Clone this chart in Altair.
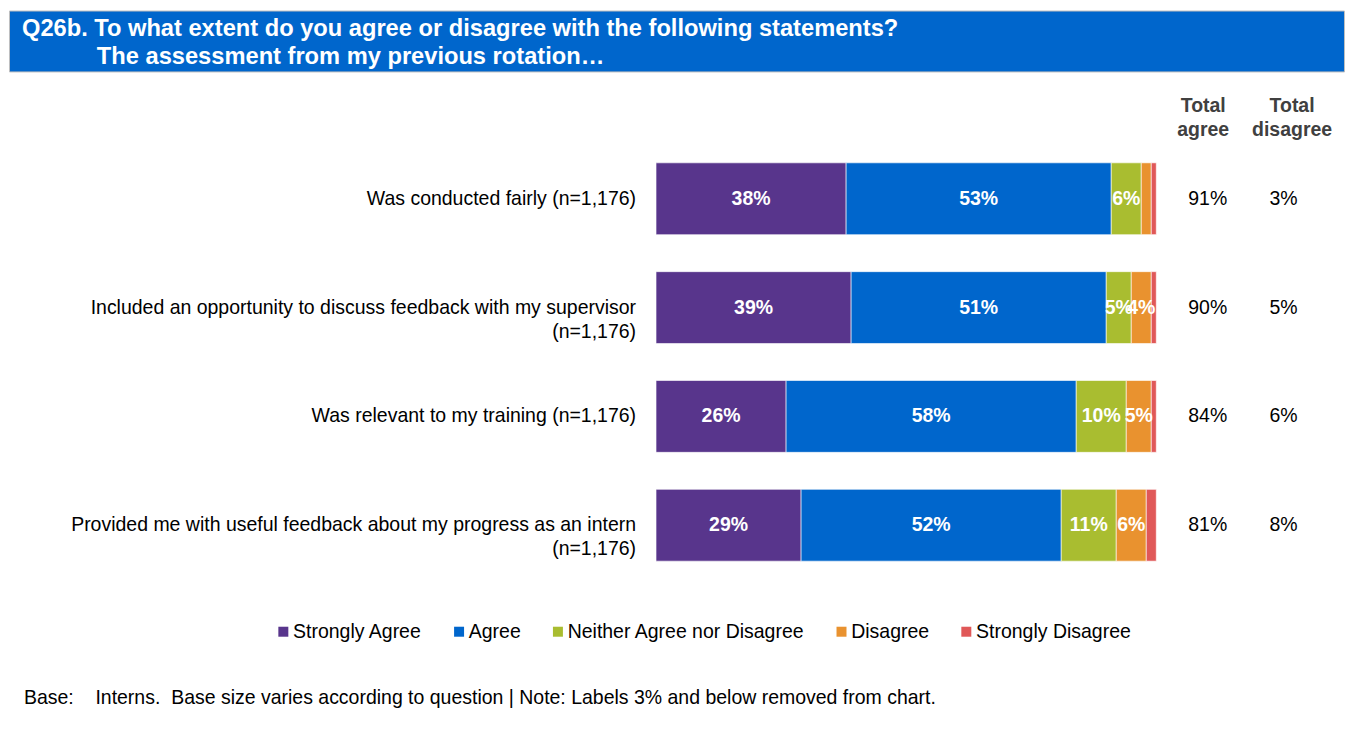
import altair as alt
import pandas as pd

FONT = "Liberation Sans"

statements = [
    "Was conducted fairly (n=1,176)",
    "Included an opportunity to discuss feedback with my supervisor\n(n=1,176)",
    "Was relevant to my training (n=1,176)",
    "Provided me with useful feedback about my progress as an intern\n(n=1,176)",
]
responses = ["Strongly Agree", "Agree", "Neither Agree nor Disagree", "Disagree", "Strongly Disagree"]
strongly_agree = [38, 39, 26, 29]
agree = [53, 51, 58, 52]
neither = [6, 5, 10, 11]
disagree = [2, 4, 5, 6]
strongly_disagree = [1, 1, 1, 2]
total_columns = ["Total\nagree", "Total\ndisagree"]
total_agree = [91, 90, 84, 81]
total_disagree = [3, 5, 6, 8]
colors = ["#58358C", "#0066CC", "#A9BD30", "#E9922F", "#E05858"]

title_line1 = "Q26b. To what extent do you agree or disagree with the following statements?"
title_line2 = "The assessment from my previous rotation\u2026"
footer_text = ("Base:\u00a0\u00a0\u00a0\u00a0Interns.\u00a0\u00a0Base size varies according to question | "
               "Note: Labels 3% and below removed from chart.")

series = [strongly_agree, agree, neither, disagree, strongly_disagree]
rows = []
for i, s in enumerate(statements):
    for j, r in enumerate(responses):
        rows.append({"statement": s, "response": r, "ord": j, "value": series[j][i]})
df = pd.DataFrame(rows)

trows = []
for i, s in enumerate(statements):
    trows.append({"statement": s, "column": total_columns[0], "col": 0, "value": total_agree[i]})
    trows.append({"statement": s, "column": total_columns[1], "col": 1, "value": total_disagree[i]})
tdf = pd.DataFrame(trows)

split_expr = "split(datum.label, '\\n')"
yscale = alt.Scale(paddingInner=0.34, paddingOuter=0.17)
y_enc = alt.Y("statement:N", sort=statements, title=None, scale=yscale, axis=None)
xscale = alt.Scale(domain=[0, 100], nice=False, zero=True)

# category labels panel
label_panel = alt.Chart(pd.DataFrame({"statement": statements})).mark_text(
    align="right", baseline="middle", font=FONT, fontSize=19.5, color="#000000",
    lineBreak="\n", lineHeight=24,
).encode(
    x=alt.value(628), y=y_enc, text="statement:N",
).properties(width=646, height=436)

base = alt.Chart(df)
bars = base.mark_bar(stroke="#ffffff", strokeWidth=0.6).encode(
    x=alt.X("value:Q", stack="zero", scale=xscale, axis=None),
    y=y_enc,
    color=alt.Color(
        "response:N",
        scale=alt.Scale(domain=responses, range=colors),
        legend=alt.Legend(title=None, orient="none", legendX=265, legendY=612, direction="horizontal",
                          symbolType="square", symbolSize=100, symbolStrokeWidth=0,
                          labelFont=FONT, labelFontSize=19.5, labelColor="#000000", labelOffset=0,
                          columnPadding=27, labelLimit=400, padding=0),
    ),
    order=alt.Order("ord:Q"),
)
seg_labels = base.transform_stack(
    stack="value", groupby=["statement"], as_=["x0", "x1"],
    sort=[alt.SortField("ord", order="ascending")],
).transform_calculate(
    mid="(datum.x0 + datum.x1) / 2", lab="datum.value + '%'"
).transform_filter("datum.value > 3").mark_text(
    font=FONT, fontSize=19.5, fontWeight="bold", color="#ffffff", baseline="middle"
).encode(
    x=alt.X("mid:Q", scale=xscale, axis=None),
    y=y_enc,
    text="lab:N",
)
bar_panel = alt.layer(bars, seg_labels).properties(width=501, height=436)

tx = alt.X("column:N", sort=total_columns, title=None,
           scale=alt.Scale(paddingInner=0, paddingOuter=0.1125),
           axis=alt.Axis(orient="top", labelExpr=split_expr, labelAngle=0, labelFont=FONT,
                         labelFontWeight="bold", labelColor="#404040", labelFontSize=19.5,
                         labelLineHeight=24, ticks=False, domain=False, labelPadding=29))
tbase = alt.Chart(tdf).transform_calculate(lab="datum.value + '%'")
agree_vals = tbase.transform_filter("datum.col == 0").mark_text(
    font=FONT, fontSize=19.5, color="#000000", baseline="middle", dx=5
).encode(x=tx, y=y_enc, text="lab:N")
disagree_vals = tbase.transform_filter("datum.col == 1").mark_text(
    font=FONT, fontSize=19.5, color="#000000", baseline="middle", dx=-8
).encode(x=tx, y=y_enc, text="lab:N")
totals = alt.layer(agree_vals, disagree_vals).properties(width=178, height=436)

body = alt.hconcat(label_panel, bar_panel, totals, spacing=0)

header = alt.layer(
    alt.Chart(pd.DataFrame({"t": [title_line1]})).mark_text(
        align="left", baseline="middle", font=FONT, fontSize=23.7, fontWeight="bold", color="#ffffff"
    ).encode(x=alt.value(13), y=alt.value(19), text="t:N"),
    alt.Chart(pd.DataFrame({"t": [title_line2]})).mark_text(
        align="left", baseline="middle", font=FONT, fontSize=23.7, fontWeight="bold", color="#ffffff"
    ).encode(x=alt.value(88), y=alt.value(47), text="t:N"),
).properties(width=1337, height=61,
             view=alt.ViewBackground(fill="#0066CC", stroke="#BFBFBF", strokeWidth=1))

footer = alt.Chart(pd.DataFrame({"t": [footer_text]})).mark_text(
    align="left", baseline="middle", font=FONT, fontSize=19.5, color="#000000"
).encode(x=alt.value(15), y=alt.value(94.5), text="t:N").properties(width=1337, height=110)

chart = alt.vconcat(header, body, footer, spacing=22).properties(
    padding={"left": 0, "top": 1, "right": 0, "bottom": 0}
).configure(font=FONT).configure_view(stroke="transparent")

chart.save("out.html", embed_options={"renderer": "svg", "actions": False})
